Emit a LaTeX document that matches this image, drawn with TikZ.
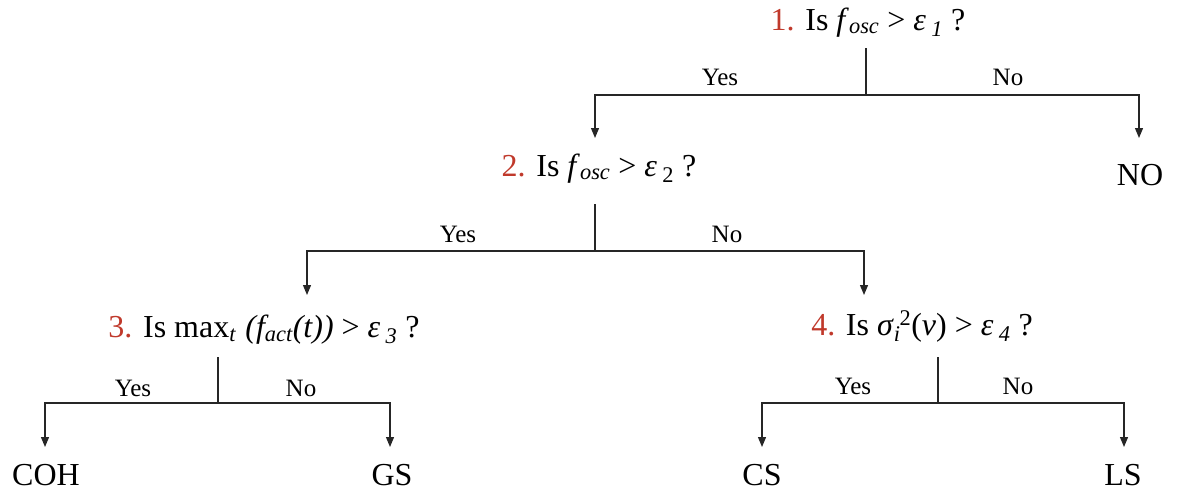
\documentclass[tikz,border=0pt]{standalone}
\usepackage{fontspec}
\setmainfont{Liberation Serif}
\usetikzlibrary{arrows.meta}
\definecolor{numred}{HTML}{C0392B}
\tikzset{
  q/.style={anchor=base, inner sep=0pt, font=\fontsize{32}{38}\selectfont},
  lbl/.style={inner sep=0pt, font=\fontsize{25}{30}\selectfont},
  leaf/.style={anchor=base, inner sep=0pt, font=\fontsize{32}{38}\selectfont},
  ln/.style={line width=1.2pt, draw=black!85},
  arr/.style={ln, -{Triangle[width=8pt,length=10pt]}},
}
\newcommand{\nr}[1]{\textcolor{numred}{#1}}
\begin{document}
\begin{tikzpicture}[x=1pt,y=-1pt]
\useasboundingbox (0,0) rectangle (1178,498);
% questions
\node[q] (q1) at (868,30) {\nr{1.} Is \textit{f}\textsubscript{\textit{osc}} > \textit{ε}\,\textsubscript{\textit{1}} ?};
\node[q] (q2) at (599,176) {\nr{2.} Is \textit{f}\textsubscript{\textit{osc}} > \textit{ε}\,\textsubscript{2} ?};
\node[q] (q3) at (264,337) {\nr{3.} Is max\textsubscript{\textit{t}}\;\textit{(f\textsubscript{act}(t))} > \textit{ε}\,\textsubscript{\textit{3}} ?};
\node[q] (q4) at (922,335) {\nr{4.} Is \textit{σ}\textsubscript{\textit{i}}\kern-1pt\textsuperscript{2}(\textit{ν}) > \textit{ε}\,\textsubscript{\textit{4}} ?};
% leaves
\node[leaf] (no)  at (1140,185) {NO};
\node[leaf] (coh) at (46,485) {COH};
\node[leaf] (gs)  at (392,485) {GS};
\node[leaf] (cs)  at (762,485) {CS};
\node[leaf] (ls)  at (1123,485) {LS};
% junction coordinates
\coordinate (t1) at (866,48);  \coordinate (j1) at (866,95);
\coordinate (a1) at (595,138); \coordinate (b1) at (1139,138);
\coordinate (t2) at (595,204); \coordinate (j2) at (595,251);
\coordinate (a2) at (307,295); \coordinate (b2) at (864,295);
\coordinate (t3) at (218,357); \coordinate (j3) at (218,403);
\coordinate (a3) at (45,447);  \coordinate (b3) at (390,447);
\coordinate (t4) at (938,357); \coordinate (j4) at (938,403);
\coordinate (a4) at (762,447); \coordinate (b4) at (1124,447);
% connectors
\draw[ln] (t1) -- (j1);
\draw[arr] (j1) -| (a1);
\draw[arr] (j1) -| (b1);
\draw[ln] (t2) -- (j2);
\draw[arr] (j2) -| (a2);
\draw[arr] (j2) -| (b2);
\draw[ln] (t3) -- (j3);
\draw[arr] (j3) -| (a3);
\draw[arr] (j3) -| (b3);
\draw[ln] (t4) -- (j4);
\draw[arr] (j4) -| (a4);
\draw[arr] (j4) -| (b4);
% labels
\node[lbl] (y1) at (720,77) {Yes};
\node[lbl] (n1) at (1008,77) {No};
\node[lbl] (y2) at (458,234) {Yes};
\node[lbl] (n2) at (727,234) {No};
\node[lbl] (y3) at (133,388) {Yes};
\node[lbl] (n3) at (301,388) {No};
\node[lbl] (y4) at (853,386) {Yes};
\node[lbl] (n4) at (1018,386) {No};
\end{tikzpicture}
\end{document}
